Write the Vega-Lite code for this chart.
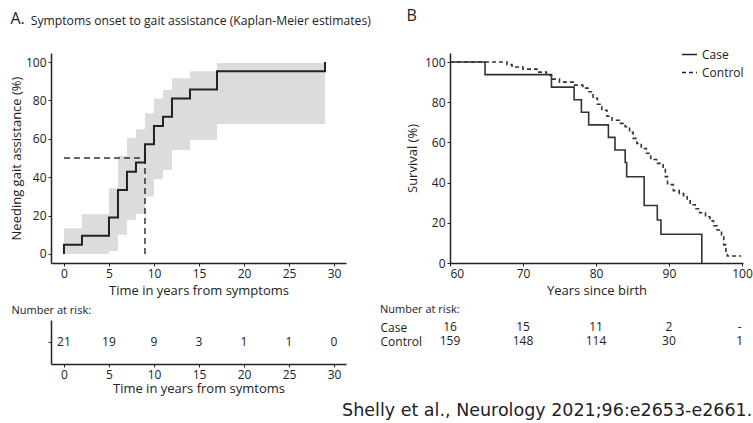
{
  "$schema": "https://vega.github.io/schema/vega-lite/v6.json",
  "padding": {"left": 10, "top": 8, "right": 2, "bottom": 2},
  "background": "white",
  "config": {
    "font": "Open Sans",
    "view": {"stroke": null},
    "axis": {"grid": false, "domainColor": "#222", "domainWidth": 1.5, "tickColor": "#222", "tickWidth": 1, "tickSize": 3, "labelColor": "#222", "labelFontSize": 12, "labelPadding": 2, "titleColor": "#222", "titleFontSize": 13, "titleFontWeight": "normal", "labelFont": "Open Sans", "titleFont": "Open Sans"},
    "title": {"font": "Open Sans", "fontWeight": "normal", "color": "#222", "anchor": "start", "subtitleFont": "Open Sans", "subtitleColor": "#222"},
    "legend": {"labelFont": "Open Sans"}
  },
  "datasets": {
    "bandA": [
      {"t": 0, "lo": 0, "hi": 13.4},
      {"t": 2, "lo": 0, "hi": 20.7},
      {"t": 5, "lo": 1.5, "hi": 34.2},
      {"t": 6, "lo": 10, "hi": 51},
      {"t": 7, "lo": 17.7, "hi": 60.5},
      {"t": 8, "lo": 21, "hi": 65},
      {"t": 9, "lo": 29.9, "hi": 73.3},
      {"t": 10, "lo": 38.9, "hi": 81},
      {"t": 11, "lo": 43.8, "hi": 85.4},
      {"t": 12, "lo": 54.2, "hi": 91.5},
      {"t": 14, "lo": 59.4, "hi": 95.2},
      {"t": 17, "lo": 67.7, "hi": 99.5},
      {"t": 29, "lo": 67.7, "hi": 99.5}
    ],
    "lineA": [
      {"t": 0, "v": 0},
      {"t": 0, "v": 4.76},
      {"t": 2, "v": 9.52},
      {"t": 5, "v": 19.05},
      {"t": 6, "v": 33.33},
      {"t": 7, "v": 42.86},
      {"t": 8, "v": 47.62},
      {"t": 9, "v": 57.14},
      {"t": 10, "v": 66.67},
      {"t": 11, "v": 71.43},
      {"t": 12, "v": 80.95},
      {"t": 14, "v": 85.71},
      {"t": 17, "v": 95.24},
      {"t": 29, "v": 100}
    ],
    "refA": [
      {"x": 0, "x2": 9, "y": 50, "y2": 50},
      {"x": 9, "x2": 9, "y": 0, "y2": 50}
    ],
    "riskA": [
      {"t": 0, "n": "21", "row": "all"},
      {"t": 5, "n": "19", "row": "all"},
      {"t": 10, "n": "9", "row": "all"},
      {"t": 15, "n": "3", "row": "all"},
      {"t": 20, "n": "1", "row": "all"},
      {"t": 25, "n": "1", "row": "all"},
      {"t": 30, "n": "0", "row": "all"}
    ],
    "survB": [
      {"group": "Case", "age": 60, "surv": 100},
      {"group": "Case", "age": 64.8, "surv": 93.75},
      {"group": "Case", "age": 73.9, "surv": 87.5},
      {"group": "Case", "age": 77.0, "surv": 81.25},
      {"group": "Case", "age": 78.0, "surv": 75},
      {"group": "Case", "age": 79.0, "surv": 68.75},
      {"group": "Case", "age": 81.7, "surv": 62.5},
      {"group": "Case", "age": 82.6, "surv": 56.25},
      {"group": "Case", "age": 84.0, "surv": 50},
      {"group": "Case", "age": 84.2, "surv": 42.9},
      {"group": "Case", "age": 86.6, "surv": 28.6},
      {"group": "Case", "age": 88.4, "surv": 21.4},
      {"group": "Case", "age": 88.9, "surv": 14.3},
      {"group": "Case", "age": 94.5, "surv": 0},
      {"group": "Control", "age": 60, "surv": 100},
      {"group": "Control", "age": 67.8, "surv": 98.7},
      {"group": "Control", "age": 68.5, "surv": 97.5},
      {"group": "Control", "age": 70, "surv": 96.5},
      {"group": "Control", "age": 71.9, "surv": 95},
      {"group": "Control", "age": 73.2, "surv": 93.5},
      {"group": "Control", "age": 73.9, "surv": 91.5},
      {"group": "Control", "age": 75, "surv": 90},
      {"group": "Control", "age": 76.9, "surv": 88.5},
      {"group": "Control", "age": 78.2, "surv": 87},
      {"group": "Control", "age": 78.9, "surv": 85.2},
      {"group": "Control", "age": 79.6, "surv": 82},
      {"group": "Control", "age": 80.2, "surv": 79},
      {"group": "Control", "age": 80.8, "surv": 76},
      {"group": "Control", "age": 81.5, "surv": 73},
      {"group": "Control", "age": 82.2, "surv": 71},
      {"group": "Control", "age": 83.2, "surv": 69.5},
      {"group": "Control", "age": 84.0, "surv": 67.8},
      {"group": "Control", "age": 84.6, "surv": 65},
      {"group": "Control", "age": 85.1, "surv": 62},
      {"group": "Control", "age": 85.6, "surv": 59.5},
      {"group": "Control", "age": 86.2, "surv": 57},
      {"group": "Control", "age": 86.9, "surv": 54.6},
      {"group": "Control", "age": 87.5, "surv": 51.5},
      {"group": "Control", "age": 88.3, "surv": 49.6},
      {"group": "Control", "age": 89.2, "surv": 47},
      {"group": "Control", "age": 89.5, "surv": 43},
      {"group": "Control", "age": 89.8, "surv": 39},
      {"group": "Control", "age": 90.6, "surv": 36},
      {"group": "Control", "age": 91.4, "surv": 34.5},
      {"group": "Control", "age": 92.0, "surv": 33},
      {"group": "Control", "age": 92.5, "surv": 31},
      {"group": "Control", "age": 92.9, "surv": 29},
      {"group": "Control", "age": 93.6, "surv": 27},
      {"group": "Control", "age": 94.2, "surv": 25},
      {"group": "Control", "age": 95.0, "surv": 23},
      {"group": "Control", "age": 95.6, "surv": 21},
      {"group": "Control", "age": 96.1, "surv": 18.5},
      {"group": "Control", "age": 96.6, "surv": 16.4},
      {"group": "Control", "age": 97.2, "surv": 13},
      {"group": "Control", "age": 97.5, "surv": 9},
      {"group": "Control", "age": 97.8, "surv": 5},
      {"group": "Control", "age": 98.0, "surv": 3.5},
      {"group": "Control", "age": 99.9, "surv": 3.5}
    ],
    "riskB": [
      {"group": "Case", "age": 60, "n": "16"},
      {"group": "Case", "age": 70, "n": "15"},
      {"group": "Case", "age": 80, "n": "11"},
      {"group": "Case", "age": 90, "n": "2"},
      {"group": "Case", "age": 99.7, "n": "-"},
      {"group": "Control", "age": 60, "n": "159"},
      {"group": "Control", "age": 70, "n": "148"},
      {"group": "Control", "age": 80, "n": "114"},
      {"group": "Control", "age": 90, "n": "30"},
      {"group": "Control", "age": 99.7, "n": "1"}
    ]
  },
  "title": {"text": "Shelly et al., Neurology 2021;96:e2653-e2661.", "orient": "bottom", "anchor": "end", "font": "DejaVu Sans", "fontSize": 17.5, "fontWeight": "normal", "color": "#222", "offset": 7},
  "spacing": 9,
  "hconcat": [
    {
      "bounds": "flush",
      "spacing": 57,
      "vconcat": [
        {
          "width": 295,
          "height": 210,
          "title": {"text": "A.", "fontSize": 16, "offset": 26, "subtitle": "\u200b\u2003\u2002\u2009Symptoms onset to gait assistance (Kaplan-Meier estimates)", "subtitleFontSize": 12.2, "subtitlePadding": -12},
          "layer": [
            {
              "data": {"name": "bandA"},
              "mark": {"type": "area", "interpolate": "step-after", "color": "#dcdcdc"},
              "encoding": {
                "x": {"field": "t", "type": "quantitative", "scale": {"domain": [-1.44, 31.33], "nice": false, "zero": false}, "axis": {"values": [0, 5, 10, 15, 20, 25, 30], "title": "Time in years from symptoms", "titlePadding": 5}},
                "y": {"field": "lo", "type": "quantitative", "scale": {"domain": [-4.7, 104.7], "nice": false, "zero": false}, "axis": {"values": [0, 20, 40, 60, 80, 100], "title": "Needing gait assistance (%)", "titlePadding": 2}},
                "y2": {"field": "hi"}
              }
            },
            {
              "data": {"name": "refA"},
              "mark": {"type": "rule", "strokeDash": [6, 4], "color": "#333", "strokeWidth": 1.5},
              "encoding": {
                "x": {"field": "x", "type": "quantitative"},
                "x2": {"field": "x2"},
                "y": {"field": "y", "type": "quantitative"},
                "y2": {"field": "y2"}
              }
            },
            {
              "data": {"name": "lineA"},
              "mark": {"type": "line", "interpolate": "step-after", "color": "#222", "strokeWidth": 2},
              "encoding": {
                "x": {"field": "t", "type": "quantitative"},
                "y": {"field": "v", "type": "quantitative"}
              }
            }
          ]
        },
        {
          "width": 295,
          "height": 44,
          "title": {"text": "Number at risk:", "fontSize": 11, "dx": -36, "offset": 4},
          "data": {"name": "riskA"},
          "mark": {"type": "text", "fontSize": 12, "color": "#222"},
          "encoding": {
            "x": {"field": "t", "type": "quantitative", "scale": {"domain": [-1.44, 31.33], "nice": false, "zero": false}, "axis": {"values": [0, 5, 10, 15, 20, 25, 30], "title": "Time in years from symtoms", "titlePadding": 2}},
            "y": {"field": "row", "type": "nominal", "axis": {"title": null, "labels": false, "ticks": true}},
            "text": {"field": "n", "type": "nominal"}
          }
        }
      ]
    },
    {
      "bounds": "flush",
      "spacing": 57,
      "vconcat": [
        {
          "width": 293,
          "height": 210,
          "title": {"text": "B", "fontSize": 16, "offset": 29},
          "data": {"name": "survB"},
          "mark": {"type": "line", "interpolate": "step-after", "color": "#333", "strokeWidth": 1.6},
          "encoding": {
            "x": {"field": "age", "type": "quantitative", "scale": {"domain": [60, 100.14], "nice": false, "zero": false}, "axis": {"values": [60, 70, 80, 90, 100], "title": "Years since birth", "titlePadding": 5}},
            "y": {"field": "surv", "type": "quantitative", "scale": {"domain": [0, 104.5], "nice": false}, "axis": {"values": [0, 20, 40, 60, 80, 100], "title": "Survival (%)", "titlePadding": 5}},
            "strokeDash": {"field": "group", "type": "nominal", "scale": {"domain": ["Case", "Control"], "range": [[1, 0], [4, 3]]}, "legend": {"title": null, "orient": "none", "legendX": 630, "legendY": -7, "labelFontSize": 12, "labelColor": "#222", "symbolType": "stroke", "symbolStrokeWidth": 1.5, "symbolStrokeColor": "#222", "symbolSize": 225, "rowPadding": 3}}
          }
        },
        {
          "width": 293,
          "height": 28,
          "title": {"text": "Number at risk:", "fontSize": 11, "offset": 5},
          "data": {"name": "riskB"},
          "mark": {"type": "text", "fontSize": 12, "color": "#222"},
          "encoding": {
            "x": {"field": "age", "type": "quantitative", "scale": {"domain": [60, 100.14], "nice": false, "zero": false}, "axis": null},
            "y": {"field": "group", "type": "nominal", "scale": {"type": "point", "padding": 0.5, "domain": ["Case", "Control"]}, "axis": {"title": null, "domain": false, "ticks": false, "labelAlign": "left", "labelPadding": 70, "labelFontSize": 12}},
            "text": {"field": "n", "type": "nominal"}
          }
        }
      ]
    }
  ]
}
